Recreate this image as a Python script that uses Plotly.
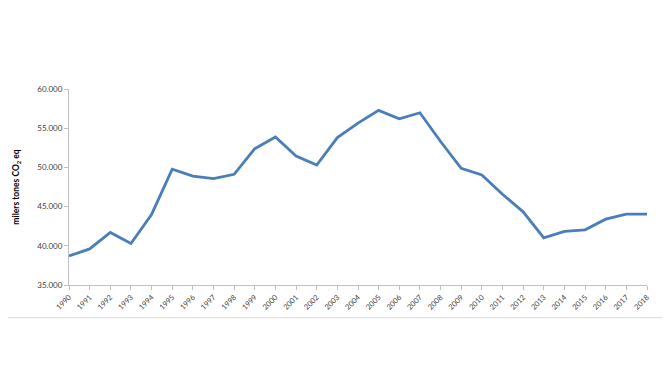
import plotly.graph_objects as go

years = [str(y) for y in range(1990, 2019)]
emissions = [38700, 39600, 41700, 40300, 44000, 49760, 48900, 48580, 49120, 52390,
             53870, 51450, 50300, 53800, 55650, 57270, 56200, 56970, 53300, 49890,
             49030, 46580, 44330, 41020, 41830, 42040, 43400, 44030, 44030]
y_ticks = [35000, 40000, 45000, 50000, 55000, 60000]

fig = go.Figure()
fig.add_trace(go.Scatter(
    x=years, y=emissions, mode="lines",
    line=dict(color="#4A7EBB", width=2.8),
    showlegend=False, hoverinfo="x+y"))

fig.update_layout(
    width=662, height=370,
    margin=dict(l=61, r=23, t=81, b=93),
    paper_bgcolor="white", plot_bgcolor="white",
    separators=",.",
    font=dict(family="Lato, Liberation Sans, sans-serif", color="#404040"),
    xaxis=dict(
        type="category", range=[0, 28], showgrid=False, automargin=False,
        showline=True, linecolor="#BFBFBF", linewidth=1,
        ticks="outside", ticklen=4, tickcolor="#BFBFBF",
        tickangle=-45, tickfont=dict(size=7.5, color="#404040"),
        zeroline=False),
    yaxis=dict(
        range=[35000, 60000], tickvals=y_ticks, tickformat=",d",
        automargin=False,
        showgrid=False, showline=True, linecolor="#BFBFBF", linewidth=1,
        ticks="outside", ticklen=4, tickcolor="#BFBFBF",
        tickfont=dict(size=8, color="#404040"), zeroline=False,
        title=dict(text="<b>milers tones CO<sub>2</sub> eq</b>",
                   font=dict(size=8.5, color="#000000"), standoff=16)),
    shapes=[dict(type="line", xref="paper", yref="paper",
                 x0=-0.12, x1=1.031, y0=-0.167, y1=-0.167,
                 line=dict(color="#D9D9D9", width=1))],
)

fig.write_html("out.html")
